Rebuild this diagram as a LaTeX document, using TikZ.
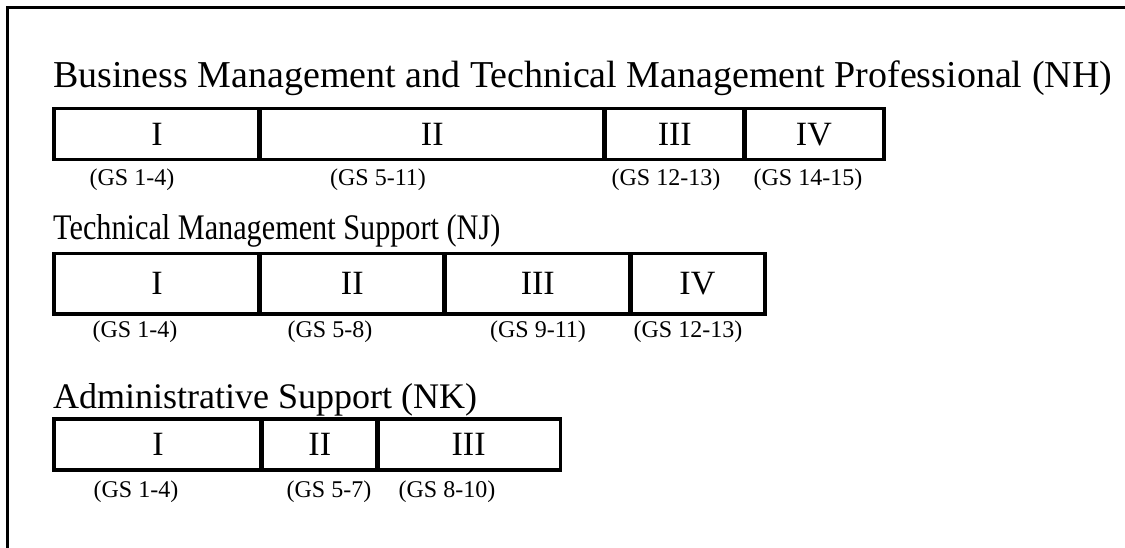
\documentclass[tikz,border=0pt]{standalone}
\usepackage{fontspec}
\usepackage{graphicx}
\setmainfont{Liberation Serif}
\begin{document}
\begin{tikzpicture}[x=1pt,y=-1pt,
  frame/.style={line width=3pt},
  title/.style={anchor=base west,inner sep=0pt,font=\fontsize{36}{40}\selectfont},
  cell/.style={draw,line width=3.5pt,anchor=north west,inner sep=0pt,font=\fontsize{34}{36}\selectfont},
  gs/.style={inner sep=0pt,font=\fontsize{24}{28}\selectfont}]
\useasboundingbox (0,0) rectangle (1125,548);
% frame
\coordinate (fl) at (7,548);
\coordinate (ft) at (1125,8);
\draw[frame] (fl) |- (ft);
% row 1
\node[title,font=\fontsize{38}{42}\selectfont] (t1) at (53,88) {Business Management and Technical Management Professional (NH)};
\node[cell,minimum width=206.75pt,minimum height=51pt] (a1) at (52,107) {I};
\node[cell,minimum width=346.5pt,minimum height=51pt] (a2) at (257.25,107) {II};
\node[cell,minimum width=141.5pt,minimum height=51pt] (a3) at (602.25,107) {III};
\node[cell,minimum width=139.75pt,minimum height=51pt] (a4) at (742.25,107) {IV};
\node[gs] (g11) at (132,180) {(GS 1-4)};
\node[gs] (g12) at (378,180) {(GS 5-11)};
\node[gs] (g13) at (666,180) {(GS 12-13)};
\node[gs] (g14) at (808,180) {(GS 14-15)};
% row 2
\node[title] (t2) at (53,240) {\scalebox{0.84}[1]{Technical Management Support (NJ)}};
\node[cell,minimum width=206.75pt,minimum height=60pt] (b1) at (52,252) {I};
\node[cell,minimum width=186.5pt,minimum height=60pt] (b2) at (257.25,252) {II};
\node[cell,minimum width=187.5pt,minimum height=60pt] (b3) at (442.25,252) {III};
\node[cell,minimum width=134.75pt,minimum height=60pt] (b4) at (628.25,252) {IV};
\node[gs] (g21) at (135,332) {(GS 1-4)};
\node[gs] (g22) at (330,332) {(GS 5-8)};
\node[gs] (g23) at (538,332) {(GS 9-11)};
\node[gs] (g24) at (688,332) {(GS 12-13)};
% row 3
\node[title] (t3) at (53,408) {Administrative Support (NK)};
\node[cell,minimum width=208.75pt,minimum height=51pt] (c1) at (52,417) {I};
\node[cell,minimum width=117.5pt,minimum height=51pt] (c2) at (259.25,417) {II};
\node[cell,minimum width=183.25pt,minimum height=51pt] (c3) at (375.25,417) {III};
\node[gs] (g31) at (136,492) {(GS 1-4)};
\node[gs] (g32) at (329,492) {(GS 5-7)};
\node[gs] (g33) at (447,492) {(GS 8-10)};
\end{tikzpicture}
\end{document}
